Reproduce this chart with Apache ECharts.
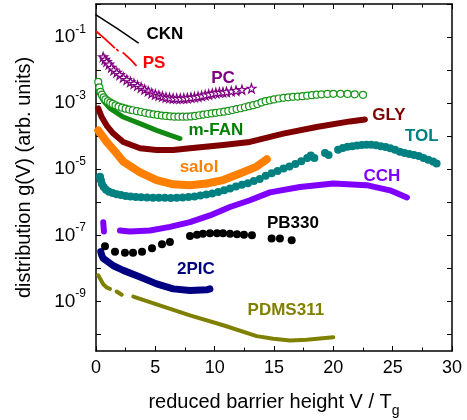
<!DOCTYPE html>
<html><head><meta charset="utf-8">
<script src="https://cdn.jsdelivr.net/npm/echarts@6/dist/echarts.min.js"></script>
<style>html,body{margin:0;padding:0;background:#fff}#c{width:467px;height:420px}</style>
</head><body><div id="c"></div>
<script>
// ---- data (x = V/Tg, y = g(V)) ----
const xTickInterval = 5;
const yTickValues = [1e0, 1e-1, 1e-2, 1e-3, 1e-4, 1e-5, 1e-6, 1e-7, 1e-8, 1e-9, 1e-10];
const yLabelValues = [1e-1, 1e-3, 1e-5, 1e-7, 1e-9];

const ckn = [[0.0, 0.47], [1.8, 0.18], [3.56, 0.067]];
const ps = [[0.06, 0.145], [0.8, 0.085], [1.55, 0.048], null, [1.75, 0.042], [1.85, 0.039], null, [2.3, 0.033], [2.9, 0.021], [3.37, 0.014]];
const pc = [[0.6,2.5e-2],[0.75,2.1e-2],[0.9,1.8e-2],[1.1,1.5e-2],[1.3,1.2e-2],[1.5,1.0e-2],[1.75,8.5e-3],[2.0,7.2e-3],[2.3,6.0e-3],[2.6,5.1e-3],[2.9,4.4e-3],[3.2,3.9e-3],[3.5,3.4e-3],[3.8,3.0e-3],[4.1,2.6e-3],[4.4,2.3e-3],[4.7,2.0e-3],[5.0,1.85e-3],[5.3,1.7e-3],[5.6,1.6e-3],[5.9,1.5e-3],[6.2,1.45e-3],[6.5,1.4e-3],[6.8,1.38e-3],[7.1,1.38e-3],[7.4,1.4e-3],[7.7,1.42e-3],[8.0,1.48e-3],[8.3,1.52e-3],[8.6,1.58e-3],[8.9,1.65e-3],[9.2,1.75e-3],[9.5,1.85e-3],[9.8,1.95e-3],[10.1,2.05e-3],[10.4,2.1e-3],[10.7,2.15e-3],[11.0,2.2e-3],[11.4,2.3e-3],[11.8,2.4e-3],[12.3,2.55e-3],[13.1,2.8e-3]];
const greenOpen = [[0.19,4.4e-3],[0.28,3.0e-3],[0.38,2.2e-3],[0.5,1.8e-3],[0.65,1.5e-3],[0.8,1.3e-3],[1.0,1.15e-3],[1.2,1.03e-3],[1.4,9.5e-4],[1.65,8.6e-4],[1.9,7.9e-4],[2.2,7.3e-4],[2.5,6.8e-4],[2.8,6.4e-4],[3.1,6.1e-4],[3.45,5.7e-4],[3.8,5.4e-4],[4.15,5.1e-4],[4.5,4.8e-4],[4.85,4.6e-4],[5.2,4.4e-4],[5.55,4.2e-4],[5.9,4.1e-4],[6.25,4.0e-4],[6.6,3.9e-4],[6.95,3.9e-4],[7.3,3.9e-4],[7.65,3.9e-4],[8.0,3.95e-4],[8.35,4.1e-4],[8.7,4.3e-4],[9.05,4.5e-4],[9.4,4.7e-4],[9.75,4.9e-4],[10.1,5.1e-4],[10.45,5.3e-4],[10.8,5.5e-4],[11.15,5.8e-4],[11.5,6.2e-4],[11.85,6.6e-4],[12.2,7.0e-4],[12.55,7.5e-4],[12.9,8.1e-4],[13.25,8.7e-4],[13.6,9.4e-4],[13.95,1.05e-3],[14.3,1.15e-3],[14.65,1.22e-3],[15.0,1.3e-3],[15.4,1.38e-3],[15.8,1.45e-3],[16.2,1.5e-3],[16.6,1.55e-3],[17.0,1.58e-3],[17.4,1.62e-3],[17.8,1.68e-3],[18.2,1.74e-3],[18.6,1.8e-3],[19.0,1.85e-3],[19.5,1.9e-3],[20.0,1.92e-3],[20.6,1.92e-3],[21.2,1.9e-3],[21.8,1.85e-3],[22.5,1.78e-3]];
const mfan = [[0.25,2.1e-3],[0.61,1.2e-3],[1.18,6.9e-4],[2.3,3.8e-4],[3.71,2.4e-4],[5.11,1.5e-4],[6.23,1.07e-4],[7.08,8.5e-5]];
const gly = [[0.19,6.9e-4],[0.48,3.8e-4],[0.9,2.1e-4],[1.46,1.2e-4],[2.3,6.7e-5],[3.71,4.3e-5],[5.11,3.8e-5],[6.51,3.8e-5],[7.92,4.3e-5],[10.72,5.4e-5],[12.97,6.7e-5],[15.78,1.2e-4],[18.59,1.9e-4],[21.4,2.8e-4],[22.66,3.2e-4]];
const salol = [[0.19,1.5e-4],[0.9,6.7e-5],[1.5,3.8e-5],[2.3,1.7e-5],[3.71,8.1e-6],[5.11,4.7e-6],[6.51,3.5e-6],[7.92,3.3e-6],[9.33,3.7e-6],[10.72,4.7e-6],[12.13,7.4e-6],[13.54,1.2e-5],[14.4,2.0e-5]];
const tol = [[0.34,5.9e-6],[0.42,4.6e-6],[0.5,3.6e-6],[0.65,2.9e-6],[0.85,2.4e-6],[1.1,2.1e-6],[1.4,1.9e-6],[1.75,1.75e-6],[2.1,1.65e-6],[2.5,1.55e-6],[2.9,1.5e-6],[3.35,1.45e-6],[3.8,1.42e-6],[4.3,1.4e-6],[4.8,1.38e-6],[5.3,1.37e-6],[5.8,1.36e-6],[6.3,1.35e-6],[6.8,1.37e-6],[7.3,1.4e-6],[7.8,1.44e-6],[8.3,1.5e-6],[8.8,1.6e-6],[9.3,1.72e-6],[9.8,1.85e-6],[10.3,2.05e-6],[10.8,2.3e-6],[11.3,2.6e-6],[11.8,3.0e-6],[12.3,3.4e-6],[12.8,3.8e-6],[13.3,4.4e-6],[13.8,5.1e-6],[14.3,6.3e-6],[14.8,7.6e-6],[15.3,8.8e-6],[15.8,1.05e-5],[16.3,1.2e-5],[16.8,1.45e-5],[17.3,1.75e-5],[17.8,2.2e-5],[18.1,2.6e-5],[18.4,2.2e-5],[19.3,3.1e-5],[19.6,2.7e-5],[20.4,3.9e-5],[20.8,4.4e-5],[21.2,4.8e-5],[21.6,5.0e-5],[22.0,5.2e-5],[22.4,5.4e-5],[22.8,5.5e-5],[23.2,5.5e-5],[23.6,5.3e-5],[24.0,5.0e-5],[24.4,4.7e-5],[24.8,4.3e-5],[25.2,3.9e-5],[25.6,3.4e-5],[26.0,3.1e-5],[26.4,2.9e-5],[26.8,2.7e-5],[27.2,2.5e-5],[27.6,2.2e-5],[28.0,1.95e-5],[28.4,1.7e-5],[28.7,1.5e-5]];
const cch = [[0.61,2.5e-7],[0.67,1.3e-7],null,[2.02,1.4e-7],[2.86,1.3e-7],[4.55,1.4e-7],[6.23,1.8e-7],[7.92,2.5e-7],[9.6,4.0e-7],[11.29,7.2e-7],[12.97,1.15e-6],[14.66,2.0e-6],[17.19,2.9e-6],[20.0,3.7e-6],[22.8,3.3e-6],[24.77,2.3e-6],[26.2,1.4e-6]];
const pb330 = [[0.76,4.7e-8],[1.6,3.2e-8],[2.44,2.95e-8],[3.12,2.95e-8],[3.88,3.2e-8],[4.72,4.1e-8],[5.56,5.4e-8],[6.23,6.3e-8],[7.92,9.6e-8],[8.51,1.04e-7],[9.01,1.12e-7],[9.6,1.15e-7],[10.19,1.15e-7],[10.7,1.15e-7],[11.29,1.12e-7],[11.88,1.07e-7],[12.47,1.04e-7],[13.14,1.0e-7],[14.8,8.0e-8],[15.5,8.0e-8],[16.49,7.1e-8]];
const pic2 = [[0.4,3.2e-8],[0.48,2.5e-8],[0.61,2.0e-8],[1.46,1.2e-8],[2.3,8.7e-9],[3.71,5.5e-9],[5.11,3.4e-9],[6.51,2.4e-9],[7.92,2.15e-9],[9.33,2.25e-9],[9.6,2.4e-9]];
const pdms = [[0.19,6.2e-9],[0.42,4.4e-9],[0.61,3.3e-9],[0.93,2.6e-9],[1.18,2.4e-9],null,[1.74,2.0e-9],[2.17,1.6e-9],null,[3.14,1.4e-9],[5.11,8.1e-10],[7.92,3.8e-10],[10.72,1.9e-10],[13.54,8.9e-11],[14.94,7.4e-11],[16.34,6.6e-11],[17.75,6.9e-11],[20.0,8.3e-11]];

const labelNames = ['CKN','PS','PC','m-FAN','GLY','TOL','salol','CCH','PB330','2PIC','PDMS311'];
const labelX = [5.81, 4.89, 10.7, 10.1, 24.68, 27.46, 8.68, 24.09, 16.6, 8.42, 16.0];
const labelY = [0.123, 0.0163, 5.7e-3, 1.5e-4, 4.3e-4, 1.0e-4, 1.15e-5, 6.2e-6, 2.3e-7, 9.3e-9, 5.4e-10];
const labelColors = ['#000000','#ff0000','#800080','#008000','#800000','#008080','#ff8000','#8000ff','#000000','#000080','#808000'];

// ---- chart ----
const FONT = 'Liberation Sans, Arial, sans-serif';
const prep = a => a.map(p => p === null ? '-' : p);
const star = 'path://M50,2 L61,36 L97,36 L68,57 L79,92 L50,71 L21,92 L32,57 L3,36 L39,36 Z';

function lineSeries(name, data, color, width) {
  return { name, type: 'line', data: prep(data), showSymbol: false, symbol: 'none',
    lineStyle: { color, width, cap: 'round', join: 'round' }, connectNulls: false, z: 3 };
}
function scatterSeries(name, data, color, symbol, size, fill) {
  return { name, type: 'scatter', data, symbol, symbolSize: size,
    itemStyle: { color: fill || color, borderColor: color, borderWidth: fill ? 1.2 : 0, opacity: 1 }, z: 3 };
}

const axisLineStyle = { color: '#000', width: 1.5 };
const yFormatter = v => {
  const e = Math.round(Math.log10(v));
  return '{b|10}{s|' + e + '}';
};

const option = {
  animation: false,
  backgroundColor: '#fff',
  grid: { left: 96, right: 15, top: 4, bottom: 69, containLabel: false, outerBoundsMode: 'none' },
  xAxis: [
    { type: 'value', min: 0, max: 30, interval: xTickInterval, position: 'bottom',
      axisLine: { show: true, onZero: false, lineStyle: axisLineStyle },
      axisTick: { show: true, inside: true, length: 5, lineStyle: { color: '#000', width: 1 } },
      minorTick: { show: true, splitNumber: 2, length: 3.5, lineStyle: { color: '#000', width: 1 } },
      splitLine: { show: false },
      axisLabel: { color: '#000', fontSize: 18, fontFamily: FONT, margin: 8 },
      name: 'reduced barrier height V / T{g|g}', nameLocation: 'middle', nameGap: 35,
      nameTextStyle: { color: '#000', fontSize: 20, fontFamily: FONT,
        rich: { g: { fontSize: 14, fontFamily: FONT, color: '#000', padding: [18, 0, 0, 0] } } } },
    { type: 'value', min: 0, max: 30, interval: xTickInterval, position: 'top',
      axisLine: { show: true, onZero: false, lineStyle: axisLineStyle },
      axisTick: { show: true, inside: true, length: 5, lineStyle: { color: '#000', width: 1 } },
      minorTick: { show: true, splitNumber: 2, length: 3.5, lineStyle: { color: '#000', width: 1 } },
      splitLine: { show: false }, axisLabel: { show: false } }
  ],
  yAxis: [
    { type: 'log', logBase: 10, min: Math.pow(10, -10.5), max: 1, position: 'left',
      axisLine: { show: true, onZero: false, lineStyle: axisLineStyle },
      axisTick: { show: true, inside: true, length: 5, customValues: yTickValues, lineStyle: { color: '#000', width: 1 } },
      splitLine: { show: false },
      axisLabel: { customValues: yLabelValues, formatter: yFormatter, margin: 10, color: '#000', fontFamily: FONT,
        rich: { b: { fontSize: 19, fontFamily: FONT, color: '#000' },
                s: { fontSize: 12, fontFamily: FONT, color: '#000', verticalAlign: 'top', padding: [0, 0, 15, 0] } } },
      name: 'distribution g(V) (arb. units)', nameLocation: 'middle', nameGap: 62,
      nameTextStyle: { color: '#000', fontSize: 20, fontFamily: FONT } },
    { type: 'log', logBase: 10, min: Math.pow(10, -10.5), max: 1, position: 'right',
      axisLine: { show: true, onZero: false, lineStyle: axisLineStyle },
      axisTick: { show: true, inside: true, length: 5, customValues: yTickValues, lineStyle: { color: '#000', width: 1 } },
      splitLine: { show: false }, axisLabel: { show: false } }
  ],
  series: [
    lineSeries('PDMS311', pdms, '#808000', 4),
    lineSeries('2PIC', pic2, '#000080', 7),
    scatterSeries('PB330', pb330, '#000000', 'circle', 8),
    lineSeries('CCH', cch, '#8000ff', 6),
    scatterSeries('TOL', tol, '#008080', 'circle', 8),
    lineSeries('salol', salol, '#ff8000', 8),
    lineSeries('GLY', gly, '#800000', 6),
    lineSeries('m-FAN', mfan, '#108a10', 5),
    scatterSeries('green open', greenOpen, '#1a941a', 'circle', 7, '#ffffff'),
    scatterSeries('PC', pc, '#800080', star, 9, '#ffffff'),
    lineSeries('PS', ps, '#ff0000', 1.8),
    lineSeries('CKN', ckn, '#000000', 1.5),
    { name: 'labels', type: 'scatter', symbolSize: 0, z: 10, silent: true,
      itemStyle: { opacity: 1 },
      data: labelNames.map((n, i) => ({ name: n, value: [labelX[i], labelY[i]],
        label: { color: labelColors[i] } })),
      label: { show: true, position: 'inside', formatter: p => p.name, opacity: 1,
        fontSize: 17, fontWeight: 'bold', fontFamily: FONT } }
  ]
};
const chart = echarts.init(document.getElementById('c'), null, { renderer: 'canvas' });
chart.setOption(option);
</script></body></html>
